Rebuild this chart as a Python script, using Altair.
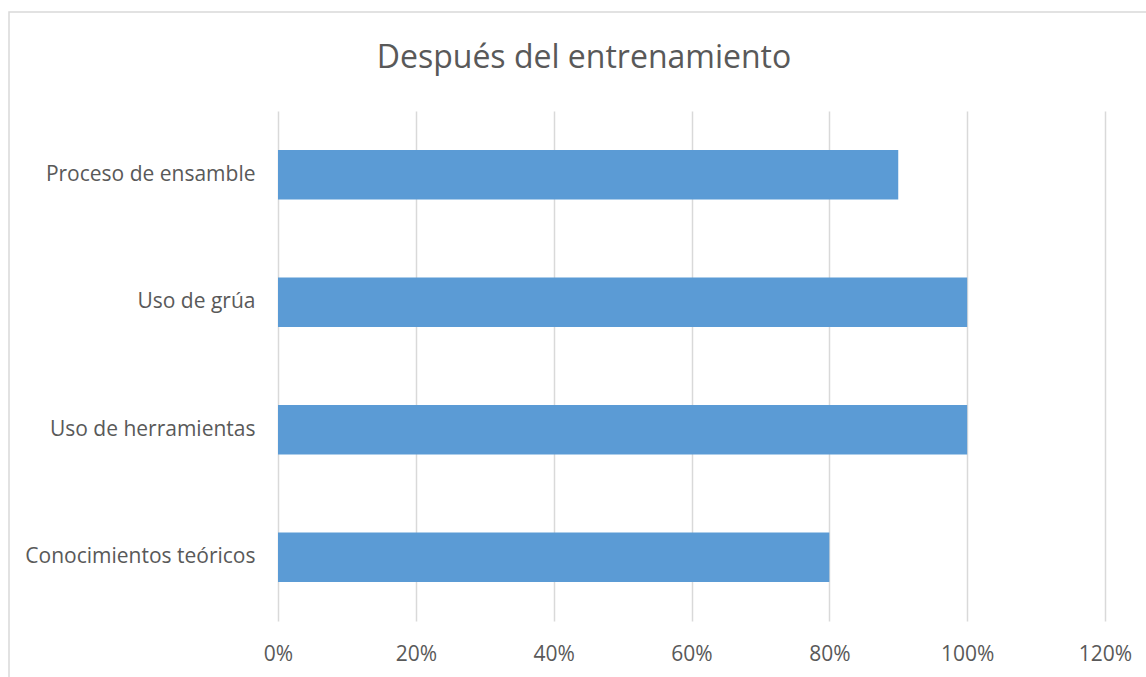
import altair as alt
import pandas as pd

categories = ["Proceso de ensamble", "Uso de grúa", "Uso de herramientas", "Conocimientos teóricos"]
values = [0.90, 1.00, 1.00, 0.80]
tick_values = [0, 0.2, 0.4, 0.6, 0.8, 1.0, 1.2]

df = pd.DataFrame({"categoria": categories, "valor": values})

FONT = "Open Sans"
GRAY = "#595959"

bars = alt.Chart(df).mark_bar(color="#5b9bd5").encode(
    y=alt.Y("categoria:N", sort=categories, title=None,
            scale=alt.Scale(paddingInner=0.61, paddingOuter=0.305),
            axis=alt.Axis(domain=False, ticks=False, grid=False, labelPadding=23,
                          labelFontSize=21, labelColor=GRAY, labelFont=FONT, labelLimit=400)),
    x=alt.X("valor:Q", title=None,
            scale=alt.Scale(domain=[0, 1.2], nice=False),
            axis=alt.Axis(values=tick_values, format=".0%", domain=False, ticks=False,
                          grid=True, gridColor="#d9d9d9", gridWidth=1.5, labelFlush=False,
                          labelPadding=22, labelFontSize=21, labelColor=GRAY, labelFont=FONT)),
)

title = alt.Chart(pd.DataFrame({"t": ["Después del entrenamiento"]})).mark_text(
    font=FONT, fontSize=32, color=GRAY, align="center", baseline="alphabetic"
).encode(text="t:N", x=alt.value(306), y=alt.value(-43))

frame = alt.Chart(pd.DataFrame({"a": [0]})).mark_rect(
    fill=None, stroke="#d9d9d9", strokeWidth=1.5
).encode(
    x=alt.value(-269), x2=alt.value(880), y=alt.value(-99), y2=alt.value(580)
)

chart = alt.layer(frame, title, bars).properties(
    width=827, height=510,
    background="white",
    autosize=alt.AutoSizeParams(type="none"),
    padding={"left": 278, "top": 111, "right": 41, "bottom": 56},
).configure_view(strokeOpacity=0, strokeWidth=0)

chart.save("out.html", embed_options={"renderer": "svg", "actions": False})
